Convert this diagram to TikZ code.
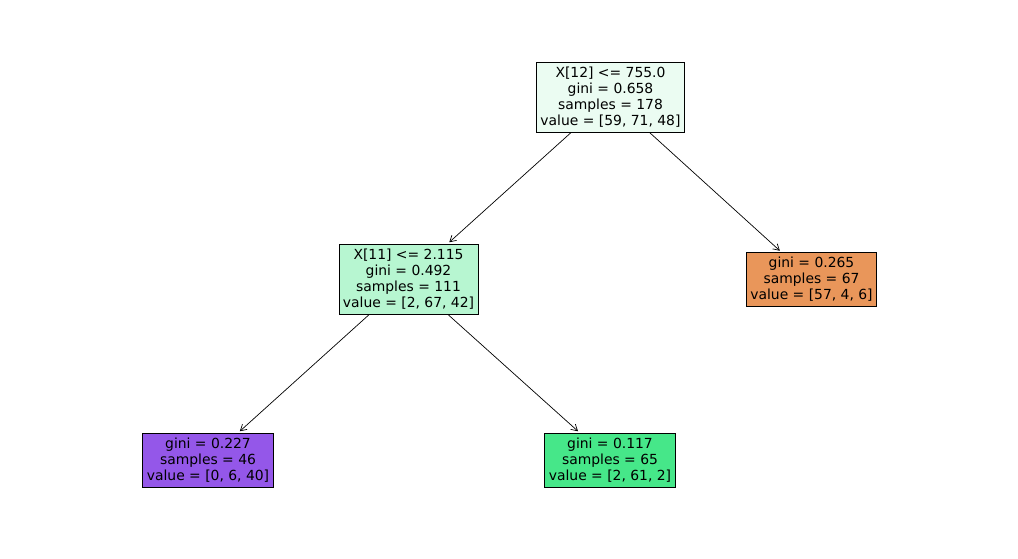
\documentclass[tikz,border=0pt]{standalone}
\usepackage{fontspec}
\setmainfont{DejaVu Sans}
\usetikzlibrary{arrows.meta}
\definecolor{crootc}{HTML}{EBFCF2}
\definecolor{cleftc}{HTML}{B7F6D1}
\definecolor{crightc}{HTML}{E9965A}
\definecolor{cllc}{HTML}{9457E9}
\definecolor{clrc}{HTML}{46E789}
\tikzset{
  treebox/.style={draw=black, line width=0.8pt, align=center, inner xsep=4pt, inner ysep=0pt,
    font=\fontsize{13.9}{16}\selectfont, text=black},
  split/.style={treebox, minimum height=70pt},
  leaf/.style={treebox, minimum height=54pt},
  edge/.style={line width=0.7pt, -{Straight Barb[length=6pt,width=7pt]}, shorten >=2pt}
}
\begin{document}
\begin{tikzpicture}[x=1pt,y=-1pt]
\useasboundingbox (0,0) rectangle (1018,558);
\node[split, fill=crootc] (root) at (610.5,97) {X[12] <= 755.0\\gini = 0.658\\samples = 178\\value = [59, 71, 48]};
\node[split, fill=cleftc] (left) at (408.5,279) {X[11] <= 2.115\\gini = 0.492\\samples = 111\\value = [2, 67, 42]};
\node[leaf, fill=crightc] (right) at (811.5,279.5) {gini = 0.265\\samples = 67\\value = [57, 4, 6]};
\node[leaf, fill=cllc] (ll) at (208,460) {gini = 0.227\\samples = 46\\value = [0, 6, 40]};
\node[leaf, fill=clrc] (lr) at (610,460) {gini = 0.117\\samples = 65\\value = [2, 61, 2]};
\draw[edge] (root) -- (left);
\draw[edge] (root) -- (right);
\draw[edge] (left) -- (ll);
\draw[edge] (left) -- (lr);
\end{tikzpicture}
\end{document}
